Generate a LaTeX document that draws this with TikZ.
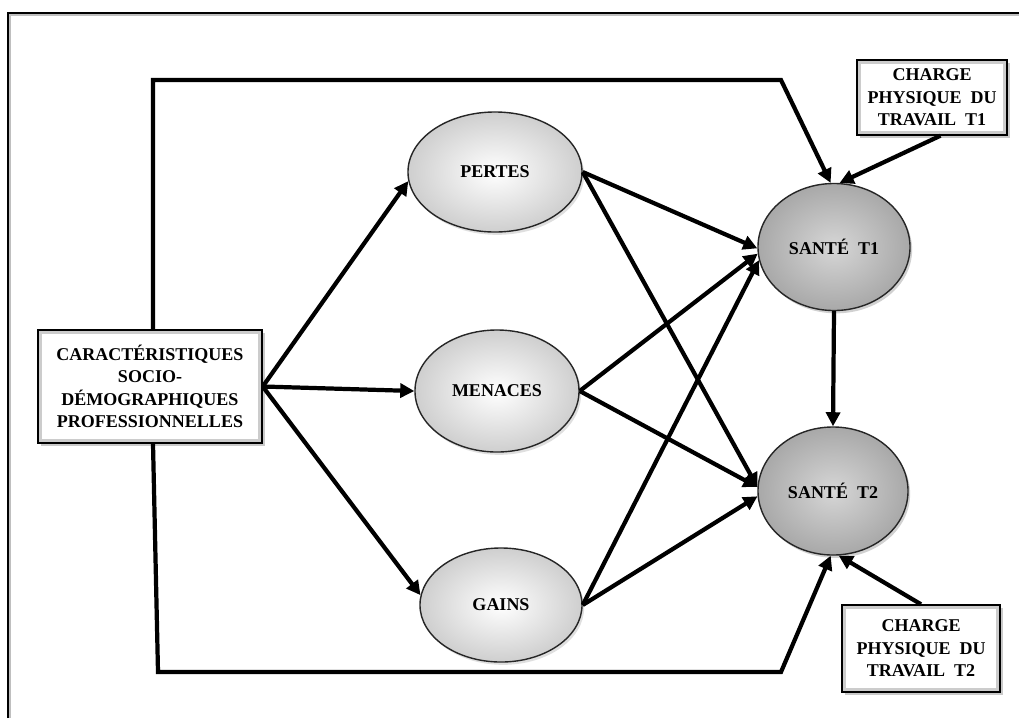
\documentclass[tikz,border=0pt]{standalone}
\usepackage{fontspec}
\setmainfont{Liberation Serif}
\usetikzlibrary{arrows.meta,shapes.geometric,shadows}
\begin{document}
\begin{tikzpicture}[x=0.025cm,y=-0.025cm,
  conn/.style={line width=3pt,-{Triangle[length=10pt,width=10pt]}},
  lbl/.style={font=\bfseries\fontsize{12.8}{16}\selectfont,align=center},
  latent/.style={ellipse,draw=black!85,line width=1pt,inner color=white,outer color=gray!38,lbl,
    drop shadow={shadow xshift=1.5pt,shadow yshift=-2pt,fill=gray!50,opacity=0.5}},
  health/.style={ellipse,draw=black!85,line width=1pt,inner color=gray!32,outer color=gray!68,lbl,
    drop shadow={shadow xshift=1.5pt,shadow yshift=-2pt,fill=gray!60,opacity=0.6}},
  tbox/.style={rectangle,draw=black,line width=1pt,fill=gray!40,lbl,inner sep=0pt,
    drop shadow={shadow xshift=2pt,shadow yshift=-2pt,fill=gray!60,opacity=0.7},
    path picture={\fill[white] ([xshift=3pt,yshift=-3pt]path picture bounding box.north west) rectangle ([xshift=-3pt,yshift=3pt]path picture bounding box.south east);}}
]
\useasboundingbox (0,0) rectangle (1019,718);
\draw[gray!50,line width=1pt] (10,718) -- (10,15) -- (1019,15);
\draw[line width=1pt] (8,718) -- (8,13) -- (1019,13);

\node[tbox,minimum width=5.6cm,minimum height=2.825cm] (car) at (150,386.5)
  {CARACTÉRISTIQUES\\SOCIO-\\DÉMOGRAPHIQUES\\PROFESSIONNELLES};
\node[latent,minimum width=4.35cm,minimum height=3cm,inner sep=0pt] (pertes) at (495,172) {PERTES};
\node[latent,minimum width=4.1cm,minimum height=3.05cm,inner sep=0pt] (menaces) at (497,391) {MENACES};
\node[latent,minimum width=4.05cm,minimum height=2.85cm,inner sep=0pt] (gains) at (501,605) {GAINS};
\node[health,minimum width=3.8cm,minimum height=3.175cm,inner sep=0pt] (s1) at (834,247) {SANTÉ\enspace T1};
\node[health,minimum width=3.75cm,minimum height=3.2cm,inner sep=0pt] (s2) at (833,491) {SANTÉ\enspace T2};
\node[tbox,minimum width=3.75cm,minimum height=1.875cm] (c1) at (932,97.5)
  {CHARGE\\PHYSIQUE\enspace DU\\TRAVAIL\enspace T1};
\node[tbox,minimum width=3.95cm,minimum height=2.175cm] (c2) at (921,648.5)
  {CHARGE\\PHYSIQUE\enspace DU\\TRAVAIL\enspace T2};

\coordinate (tl) at (153,80);
\coordinate (tr) at (781,80);
\coordinate (bl) at (158,672);
\coordinate (br) at (781,672);

\draw[conn] (car.east) -- (pertes.186);
\draw[conn] (car.east) -- (menaces.west);
\draw[conn] (car.east) -- (gains.173);

\draw[conn] (pertes.east) -- (s1.181);
\draw[conn] (pertes.east) -- (s2.177);
\draw[conn] (menaces.east) -- (s1.185);
\draw[conn] (menaces.east) -- (s2.177);
\draw[conn] (gains.east) -- (s1.190);
\draw[conn] (gains.east) -- (s2.184);

\draw[conn] (s1.south) -- (s2.north);

\draw[conn] (car.north -| tl) -- (tl) -- (tr) -- (s1.93);
\draw[conn] (car.south -| tl) -- (bl) -- (br) -- (s2.268);
\draw[conn] ([xshift=6pt]c1.south) -- (s1.85);
\draw[conn] (c2.north) -- (s2.275);
\end{tikzpicture}
\end{document}
